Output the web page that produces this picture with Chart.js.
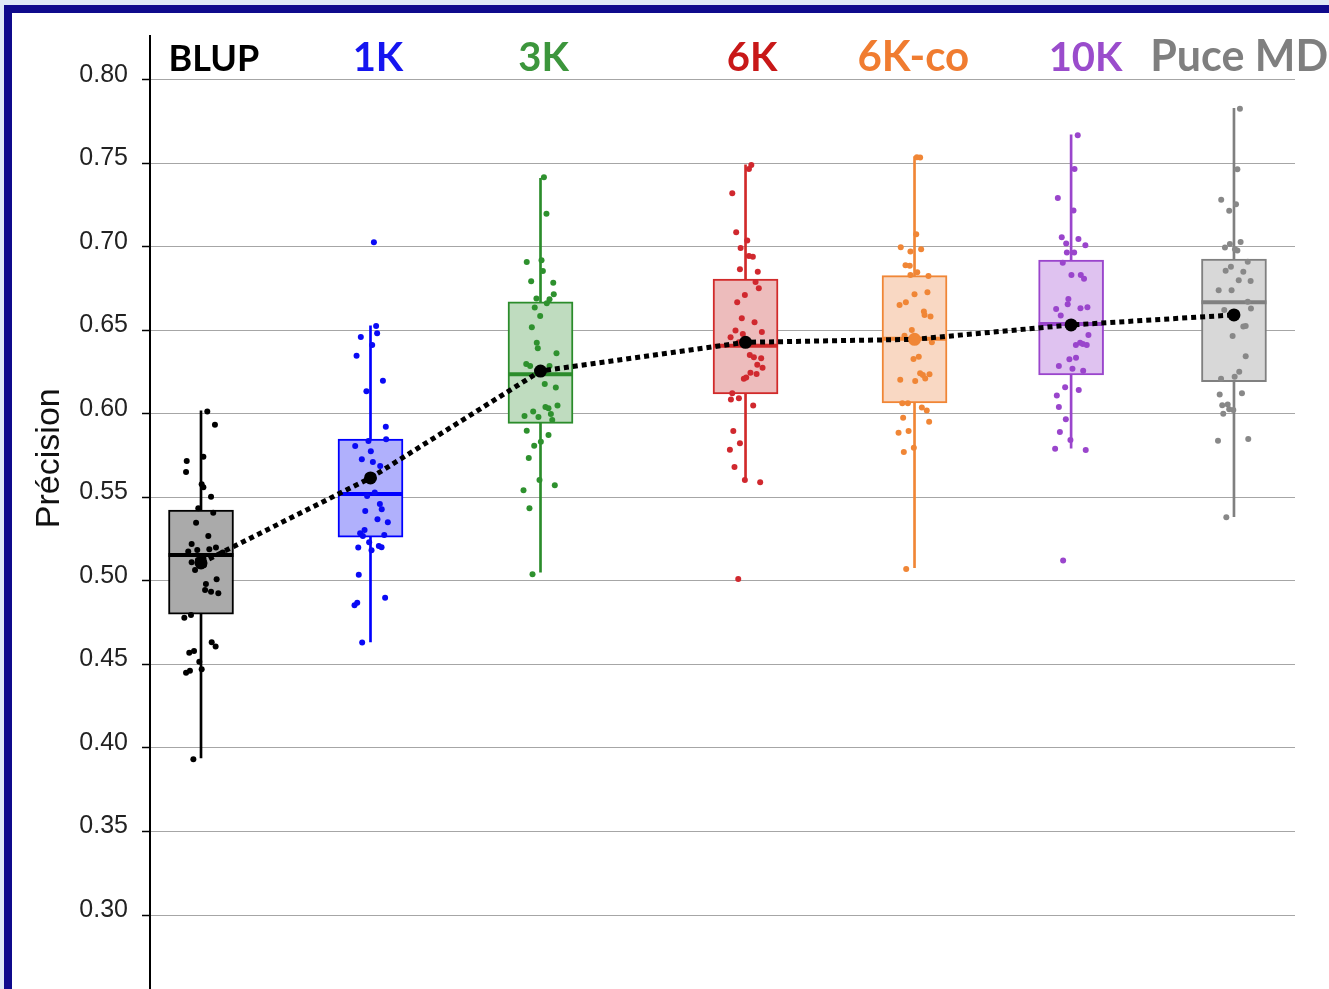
<!DOCTYPE html>
<html>
<head>
<meta charset="utf-8">
<title>Précision</title>
<script src="https://cdn.jsdelivr.net/npm/chart.js@4.4.1/dist/chart.umd.min.js"></script>
<style>
  html, body { margin: 0; padding: 0; width: 1329px; height: 989px; overflow: hidden; background: #dfe9f6; }
  #frame { position: absolute; left: 4px; top: 5px; width: 1340px; height: 1000px;
           border-top: 8px solid #0f0a8c; border-left: 8px solid #0f0a8c; background: #ffffff; }
  #chart { position: absolute; left: 0; top: 0; }
</style>
</head>
<body>
<div id="frame"></div>
<!-- the plot runs past the lower edge of the page, so the canvas is taller than the window -->
<canvas id="chart" width="1329" height="1018"></canvas>
<script>
// Groups (marker panels)
const groups = ['BLUP', '1K', '3K', '6K', '6K-co', '10K', 'Puce MD'];
// Horizontal placement of each group along the x axis
const groupPositions = [0.30, 1.297, 2.297, 3.503, 4.497, 5.418, 6.376];

// Box-plot summaries (précision)
const q1          = [0.4802, 0.5263, 0.5944, 0.6120, 0.6066, 0.6234, 0.6193];
const q3          = [0.5425, 0.5850, 0.6672, 0.6808, 0.6828, 0.6922, 0.6928];
const medians     = [0.5156, 0.5521, 0.6238, 0.6409, 0.6451, 0.6539, 0.6669];
const whiskerLow  = [0.3940, 0.4635, 0.5052, 0.5605, 0.5080, 0.5795, 0.5385];
const whiskerHigh = [0.6018, 0.6527, 0.7411, 0.7491, 0.7541, 0.7671, 0.7830];
const means       = [0.5108, 0.5617, 0.6257, 0.6429, 0.6447, 0.6533, 0.6593];

// Individual replicates: [horizontal jitter, précision]
const blupPts = [[0.037,0.6014],[0.082,0.5936],[-0.084,0.5719],[-0.088,0.5653],[0.014,0.5744],[0.004,0.5579],[0.014,0.5561],[0.059,0.5505],[-0.016,0.5435],[0.072,0.5409],[-0.029,0.5349],[0.043,0.5269],[-0.055,0.5222],[-0.075,0.5176],[-0.022,0.5186],[0.049,0.5190],[0.088,0.5200],[0.128,0.5170],[-0.055,0.5112],[-0.006,0.5106],[0.014,0.5136],[-0.018,0.5126],[0.018,0.5096],[-0.035,0.5066],[0.092,0.5010],[0.029,0.4982],[0.024,0.4946],[0.059,0.4936],[0.102,0.4926],[-0.098,0.4780],[-0.059,0.4796],[0.063,0.4633],[0.086,0.4607],[-0.069,0.4571],[-0.041,0.4581],[-0.010,0.4517],[0.004,0.4471],[-0.088,0.4451],[-0.065,0.4463],[-0.045,0.3932]];
const k1Pts = [[0.020,0.7028],[0.033,0.6527],[0.039,0.6483],[-0.057,0.6461],[0.010,0.6413],[-0.082,0.6349],[0.073,0.6199],[-0.024,0.6136],[0.090,0.5924],[0.092,0.5849],[-0.012,0.5838],[-0.090,0.5808],[0.002,0.5777],[-0.051,0.5729],[0.014,0.5713],[0.057,0.5689],[-0.006,0.5621],[0.014,0.5629],[-0.022,0.5605],[-0.020,0.5509],[0.025,0.5529],[0.055,0.5461],[0.066,0.5429],[-0.031,0.5419],[0.041,0.5369],[0.102,0.5351],[-0.035,0.5305],[-0.061,0.5286],[-0.045,0.5269],[0.081,0.5275],[-0.008,0.5232],[-0.072,0.5200],[0.049,0.5210],[0.065,0.5202],[0.006,0.5184],[-0.069,0.5038],[0.086,0.4900],[-0.094,0.4854],[-0.078,0.4870],[-0.049,0.4631]];
const k3Pts = [[0.020,0.7417],[0.035,0.7198],[-0.081,0.6910],[0.006,0.6920],[0.014,0.6856],[-0.055,0.6794],[0.075,0.6786],[0.078,0.6717],[-0.024,0.6691],[0.053,0.6687],[0.037,0.6663],[-0.034,0.6637],[-0.002,0.6587],[-0.051,0.6519],[-0.022,0.6427],[-0.016,0.6393],[0.094,0.6363],[-0.084,0.6299],[-0.061,0.6287],[0.053,0.6287],[0.025,0.6180],[0.090,0.6158],[-0.094,0.5988],[-0.043,0.6014],[-0.012,0.5982],[0.029,0.6042],[0.047,0.6034],[0.061,0.6000],[0.069,0.5964],[0.100,0.6050],[-0.081,0.5900],[0.047,0.5874],[0.002,0.5834],[-0.037,0.5810],[-0.069,0.5737],[-0.006,0.5605],[0.084,0.5573],[-0.100,0.5543],[-0.065,0.5435],[-0.047,0.5040]];
const k6Pts = [[0.034,0.7491],[0.020,0.7467],[-0.078,0.7321],[-0.055,0.7088],[0.010,0.7038],[-0.029,0.6994],[0.020,0.6946],[0.043,0.6942],[-0.033,0.6866],[0.072,0.6852],[0.059,0.6790],[0.078,0.6753],[-0.004,0.6713],[-0.049,0.6669],[-0.022,0.6573],[0.053,0.6549],[-0.059,0.6499],[-0.016,0.6479],[0.096,0.6491],[-0.088,0.6459],[-0.039,0.6429],[0.025,0.6353],[0.049,0.6339],[0.069,0.6295],[0.092,0.6333],[0.100,0.6277],[0.029,0.6247],[0.065,0.6240],[-0.010,0.6211],[0.004,0.6219],[-0.078,0.6124],[-0.086,0.6086],[-0.039,0.6094],[0.045,0.6050],[-0.072,0.5898],[-0.033,0.5825],[-0.092,0.5786],[-0.065,0.5683],[-0.004,0.5605],[0.086,0.5591],[-0.043,0.5012]];
const k6coPts = [[0.014,0.7537],[0.033,0.7535],[0.010,0.7076],[-0.081,0.6998],[-0.024,0.6972],[0.039,0.6986],[-0.053,0.6890],[-0.028,0.6888],[-0.024,0.6832],[0.016,0.6848],[0.082,0.6826],[0.000,0.6717],[0.076,0.6729],[-0.088,0.6653],[-0.051,0.6669],[0.055,0.6613],[0.059,0.6593],[0.094,0.6583],[-0.016,0.6503],[-0.059,0.6469],[0.102,0.6429],[-0.006,0.6329],[0.025,0.6343],[-0.084,0.6205],[0.004,0.6198],[0.033,0.6244],[0.049,0.6234],[0.063,0.6212],[0.088,0.6238],[-0.072,0.6064],[-0.039,0.6064],[0.043,0.6038],[0.072,0.6020],[-0.067,0.5978],[0.086,0.5954],[-0.094,0.5888],[-0.035,0.5898],[-0.004,0.5798],[-0.063,0.5772],[-0.049,0.5072]];
const k10Pts = [[0.039,0.7669],[0.020,0.7467],[-0.078,0.7293],[0.014,0.7218],[-0.055,0.7058],[0.043,0.7048],[-0.029,0.7020],[0.084,0.7010],[-0.025,0.6966],[0.018,0.6966],[-0.049,0.6906],[0.002,0.6832],[0.057,0.6832],[0.076,0.6810],[-0.016,0.6689],[-0.020,0.6657],[-0.088,0.6629],[0.055,0.6633],[0.096,0.6639],[-0.061,0.6589],[0.102,0.6473],[0.028,0.6413],[0.053,0.6427],[0.069,0.6419],[0.092,0.6413],[-0.010,0.6327],[0.029,0.6337],[-0.072,0.6287],[0.008,0.6271],[0.071,0.6259],[-0.035,0.6160],[0.045,0.6144],[-0.084,0.6110],[-0.072,0.6042],[-0.031,0.5968],[-0.066,0.5892],[-0.004,0.5844],[-0.094,0.5792],[0.086,0.5784],[-0.047,0.5122]];
const puceMdPts = [[0.035,0.7828],[0.020,0.7465],[-0.075,0.7283],[0.012,0.7256],[-0.028,0.7216],[-0.053,0.6996],[-0.024,0.7018],[0.039,0.7030],[0.006,0.6986],[0.020,0.6978],[0.081,0.6912],[-0.049,0.6858],[-0.018,0.6882],[0.055,0.6852],[0.028,0.6801],[0.098,0.6796],[-0.090,0.6741],[-0.014,0.6741],[0.081,0.6672],[0.100,0.6631],[-0.057,0.6623],[0.055,0.6523],[0.069,0.6527],[-0.008,0.6467],[0.069,0.6345],[0.031,0.6253],[0.004,0.6223],[-0.076,0.6211],[-0.084,0.6116],[0.047,0.6124],[-0.069,0.6052],[-0.037,0.6056],[-0.063,0.6002],[-0.028,0.6028],[-0.004,0.6024],[-0.094,0.5840],[0.084,0.5850],[-0.045,0.5381]];
const groupPoints = [blupPts, k1Pts, k3Pts, k6Pts, k6coPts, k10Pts, puceMdPts];

// Y axis ticks
const yTickValues = [0.30, 0.35, 0.40, 0.45, 0.50, 0.55, 0.60, 0.65, 0.70, 0.75, 0.80];
const yTickLabels = ['0.30', '0.35', '0.40', '0.45', '0.50', '0.55', '0.60', '0.65', '0.70', '0.75', '0.80'];

// Styling per group
const boxFill   = ['#aaaaaa', '#b0b0fc', '#bfdcbf', '#edbcbc', '#f9d8c3', '#dfc2f0', '#d8d8d8'];
const boxLine   = ['#000000', '#0000ff', '#2b8c2b', '#d12a2a', '#f08636', '#9a45cc', '#808080'];
const dotColor  = ['#000000', '#0a0af5', '#2e912e', '#d0282e', '#f08636', '#9a45cc', '#888888'];
const meanColor = ['#000000', '#000000', '#000000', '#000000', '#f08636', '#000000', '#000000'];
const titleStyle = {
  color: ['#000000', '#1515f0', '#3c963c', '#c81818', '#f07c30', '#9a4ccc', '#7f7f7f'],
  size:  [36, 40, 40, 40, 42, 40, 43],
  anchor: [0.376, 1.341, 2.315, 3.541, 4.49, 5.503, 6.407],
  baseline: 71
};

const at = (arr) => arr.map((v, i) => ({ x: groupPositions[i], y: v }));

const datasets = [];
// whiskers (behind the boxes)
datasets.push({
  type: 'bar', order: 20, grouped: false, barThickness: 2,
  data: groups.map((g, i) => ({ x: groupPositions[i], y: [whiskerLow[i], whiskerHigh[i]] })),
  backgroundColor: boxLine, borderWidth: 0
});
// inter-quartile boxes
datasets.push({
  type: 'bar', order: 19, grouped: false, barThickness: 65,
  data: groups.map((g, i) => ({ x: groupPositions[i], y: [q1[i], q3[i]] })),
  backgroundColor: boxFill, borderColor: boxLine, borderWidth: 2, borderSkipped: false
});
// medians
datasets.push({
  type: 'scatter', order: 18, data: at(medians),
  pointStyle: 'line', pointRadius: 32.5, pointHoverRadius: 32.5,
  borderColor: boxLine, pointBorderColor: boxLine, pointBorderWidth: 4, borderWidth: 4
});
// replicates
groupPoints.forEach((pts, i) => {
  datasets.push({
    type: 'scatter', order: 10,
    data: pts.map(p => ({ x: groupPositions[i] + p[0], y: p[1] })),
    pointRadius: 3, pointHoverRadius: 3,
    backgroundColor: dotColor[i], pointBorderWidth: 0, borderWidth: 0
  });
});
// mean trend
datasets.push({
  type: 'line', order: 2, data: at(means),
  borderColor: '#000000', borderWidth: 5, borderDash: [5, 4], borderCapStyle: 'butt',
  pointRadius: 0, fill: false, tension: 0
});
// mean markers
datasets.push({
  type: 'scatter', order: 1, data: at(means),
  pointRadius: 6.5, pointHoverRadius: 6.5,
  backgroundColor: meanColor, pointBorderWidth: 0, borderWidth: 0
});

const groupTitles = {
  id: 'groupTitles',
  afterDraw(chart) {
    const { ctx } = chart;
    const xs = chart.scales.x;
    ctx.save();
    ctx.textAlign = 'center';
    ctx.textBaseline = 'alphabetic';
    groups.forEach((g, i) => {
      ctx.font = 'bold ' + titleStyle.size[i] + 'px Lato, "Open Sans", sans-serif';
      ctx.fillStyle = titleStyle.color[i];
      ctx.fillText(g, xs.getPixelForValue(titleStyle.anchor[i]), titleStyle.baseline);
    });
    // axis title
    const ys = chart.scales.y;
    ctx.translate(50, ys.getPixelForValue(0.5735));
    ctx.rotate(-Math.PI / 2);
    ctx.textBaseline = 'middle';
    ctx.font = '34px "Liberation Sans", Arial, sans-serif';
    ctx.fillStyle = '#111111';
    ctx.fillText('Précision', 0, 0);
    ctx.restore();
  }
};

function draw() {
  new Chart(document.getElementById('chart'), {
    type: 'bar',
    data: { datasets },
    plugins: [groupTitles],
    options: {
      responsive: false,
      animation: false,
      events: [],
      layout: { autoPadding: false, padding: { top: 36, right: 34, bottom: 0, left: 0 } },
      plugins: { legend: { display: false }, tooltip: { enabled: false } },
      scales: {
        x: { type: 'linear', min: 0, max: 6.735, offset: false, display: false },
        y: {
          type: 'linear', min: 0.2557, max: 0.8263,
          afterBuildTicks: (s) => { s.ticks = yTickValues.map(v => ({ value: v })); },
          afterFit: (s) => { s.width = 150; },
          ticks: {
            callback: (v, i) => yTickLabels[i],
            font: { family: '"Liberation Sans", Arial, sans-serif', size: 25 },
            color: '#222222', padding: 14, labelOffset: -5
          },
          grid: { color: '#a6a6a6', lineWidth: 1, tickColor: '#000000', tickLength: 8, tickWidth: 1.5 },
          border: { display: true, color: '#000000', width: 2 }
        }
      }
    }
  });
}

if (document.fonts && document.fonts.load) {
  Promise.all([
    document.fonts.load('bold 40px Lato'),
    document.fonts.load('25px "Liberation Sans"')
  ]).then(draw, draw);
} else {
  draw();
}
</script>
</body>
</html>
